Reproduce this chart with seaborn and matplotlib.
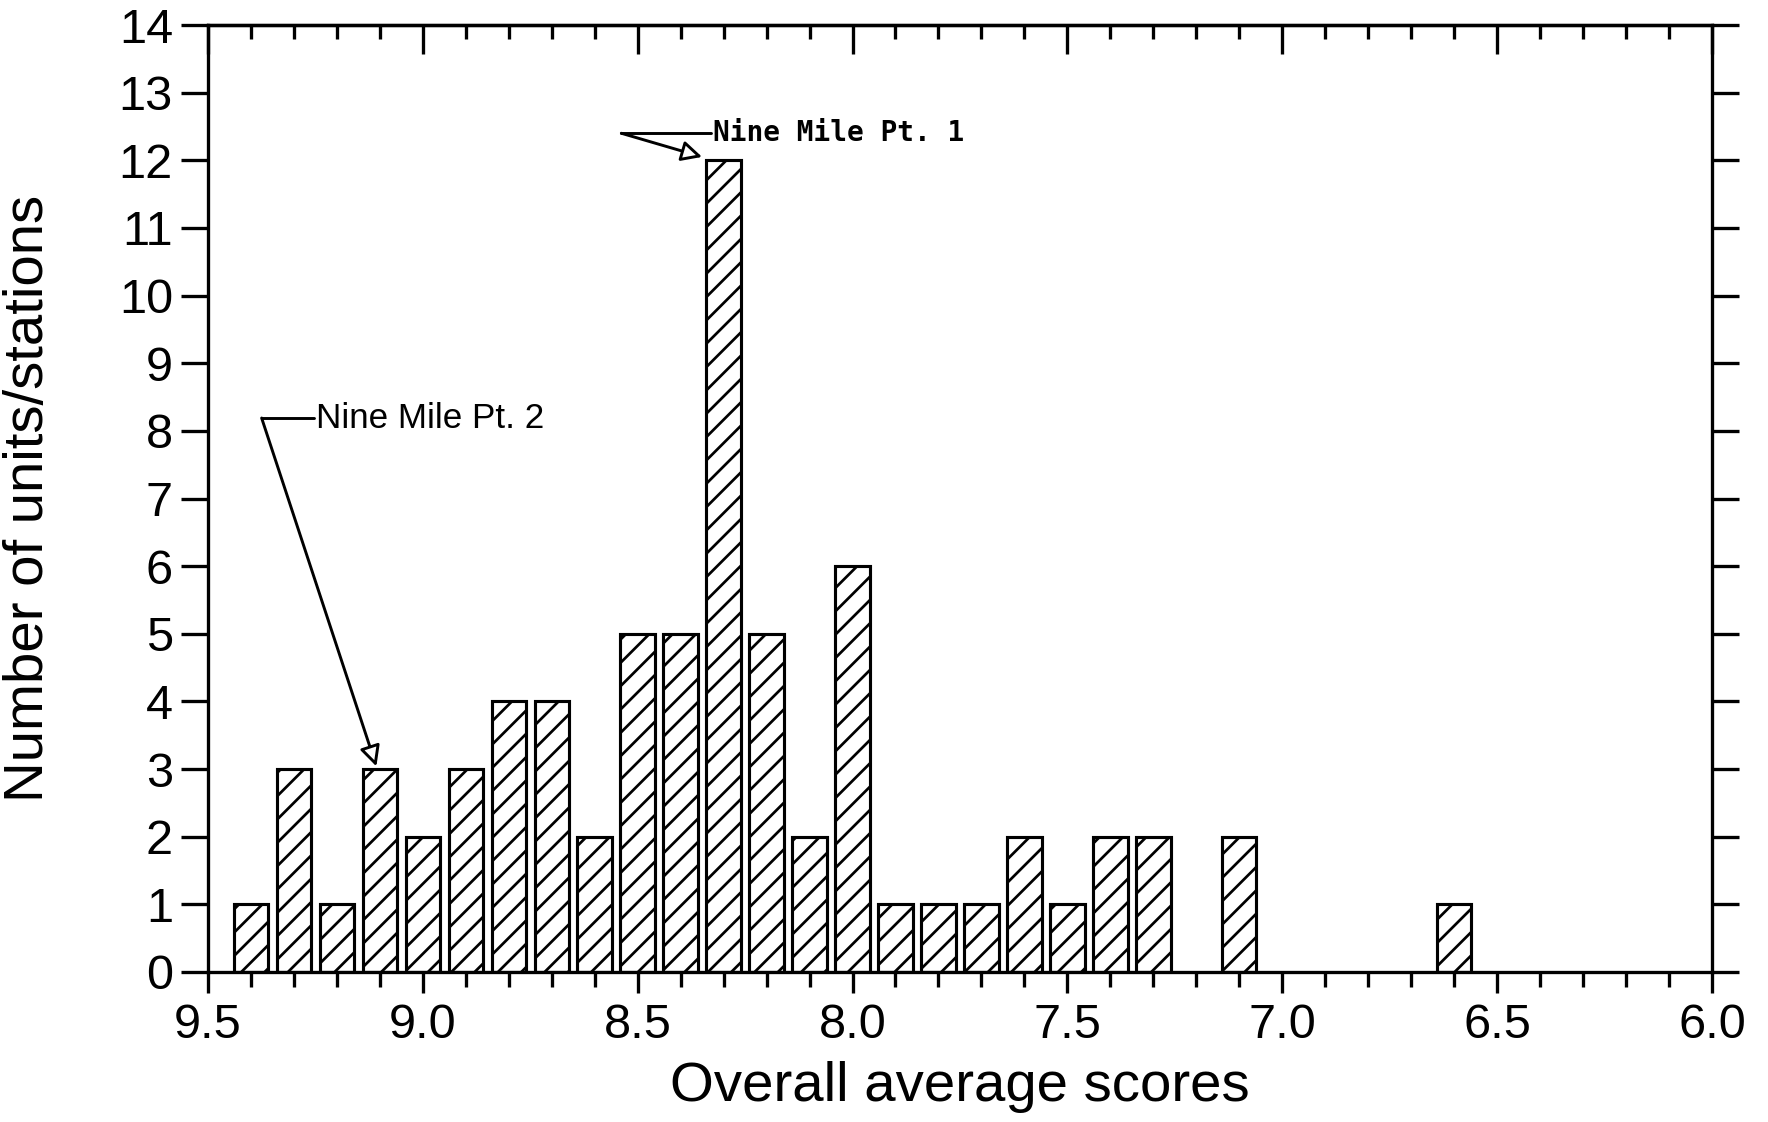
import matplotlib
matplotlib.use("Agg")
import matplotlib.pyplot as plt
import seaborn as sns
import pandas as pd
from matplotlib.ticker import MultipleLocator, FormatStrFormatter

# scores (bar centres) and number of units/stations at each score
scores = [9.4, 9.3, 9.2, 9.1, 9.0, 8.9, 8.8, 8.7, 8.6, 8.5, 8.4, 8.3,
          8.2, 8.1, 8.0, 7.9, 7.8, 7.7, 7.6, 7.5, 7.4, 7.3, 7.1, 6.6]
counts = [1, 3, 1, 3, 2, 3, 4, 4, 2, 5, 5, 12,
          5, 2, 6, 1, 1, 1, 2, 1, 2, 2, 2, 1]

x_label = "Overall average scores"
y_label = "Number of units/stations"
note1 = "Nine Mile Pt. 1"
note2 = "Nine Mile Pt. 2"

DPI = 140


def main():
    sns.set_style("ticks")
    plt.rcParams["font.family"] = ["Liberation Sans", "DejaVu Sans"]
    plt.rcParams["hatch.linewidth"] = 1.4
    plt.rcParams["hatch.color"] = "black"
    for key in ["text.color", "axes.labelcolor", "xtick.color",
                "ytick.color", "axes.edgecolor"]:
        plt.rcParams[key] = "black"

    df = pd.DataFrame({"score": scores, "count": counts})

    fig = plt.figure(figsize=(1768 / DPI, 1122 / DPI), dpi=DPI)
    ax = fig.add_axes([0.1176, 0.1337, 0.8507, 0.8440])

    sns.barplot(data=df, x="score", y="count", native_scale=True, width=0.8,
                color="white", saturation=1, errorbar=None, ax=ax,
                edgecolor="black", linewidth=1.6, hatch="//")

    ax.set_xlim(9.5, 6.0)
    ax.set_ylim(0, 14)

    ax.xaxis.set_major_locator(MultipleLocator(0.5))
    ax.xaxis.set_minor_locator(MultipleLocator(0.1))
    ax.xaxis.set_major_formatter(FormatStrFormatter("%.1f"))
    ax.yaxis.set_major_locator(MultipleLocator(1))

    for s in ax.spines.values():
        s.set_visible(True)
        s.set_linewidth(1.7)
        s.set_color("black")

    ax.tick_params(axis="x", which="major", direction="out", length=10.8,
                   width=1.7, labelsize=25, pad=5, top=False)
    ax.tick_params(axis="x", which="minor", direction="out", length=7.7,
                   width=1.7, top=False)
    ax.tick_params(axis="y", which="major", direction="out", length=14,
                   width=1.7, labelsize=25, pad=4, left=True, right=True)

    # top ticks point inward
    top = ax.secondary_xaxis("top")
    top.xaxis.set_major_locator(MultipleLocator(0.5))
    top.xaxis.set_minor_locator(MultipleLocator(0.1))
    top.tick_params(which="major", direction="in", length=15, width=1.7,
                    labeltop=False)
    top.tick_params(which="minor", direction="in", length=7.4, width=1.7)
    top.spines["top"].set_linewidth(1.7)

    ax.set_xlabel(x_label, fontsize=29)
    ax.set_ylabel(y_label, fontsize=29)
    ax.xaxis.set_label_coords(0.5, -0.094)
    ax.yaxis.set_label_coords(-0.102, 0.5)

    arrow = dict(arrowstyle="-|>", fc="white", ec="black", lw=1.5,
                 mutation_scale=22, shrinkA=0, shrinkB=0)

    # Nine Mile Pt. 1 callout
    ax.plot([8.538, 8.33], [12.4, 12.4], color="black", lw=1.5)
    ax.annotate("", xy=(8.35, 12.05), xytext=(8.538, 12.4),
                arrowprops=arrow)
    ax.text(8.3255, 12.4, note1, family=["DejaVu Sans Mono"],
            weight="bold", fontsize=14.3, va="center", ha="left")

    # Nine Mile Pt. 2 callout
    ax.plot([9.375, 9.253], [8.19, 8.19], color="black", lw=1.5)
    ax.annotate("", xy=(9.108, 3.04), xytext=(9.375, 8.19),
                arrowprops=arrow)
    ax.text(9.249, 8.19, note2, fontsize=18, va="center", ha="left")

    fig.savefig("out.png", dpi=DPI)


if __name__ == "__main__":
    main()
